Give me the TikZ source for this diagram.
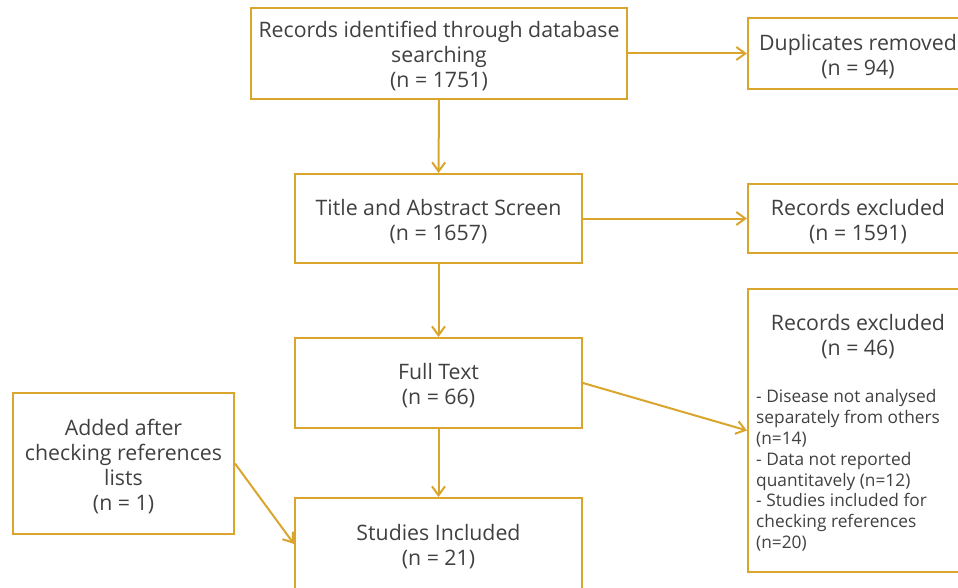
\documentclass[tikz,border=0pt]{standalone}
\usepackage{fontspec}
\setmainfont{Open Sans}
\usetikzlibrary{arrows.meta}
\definecolor{prGold}{RGB}{218,165,45}
\definecolor{prText}{RGB}{64,64,64}
\newcommand{\topgap}{\rule{0pt}{22pt}}

\begin{document}
\begin{tikzpicture}[x=1pt,y=-1pt,
  font=\fontsize{21.3}{25}\selectfont, text=prText,
  box/.style={draw=prGold, line width=2pt, align=center, inner sep=0pt},
  flow/.style={draw=prGold, line width=2pt, -{Straight Barb[length=9pt,width=13pt]}}]
\useasboundingbox (0,0) rectangle (958,588);
%% ---- main column ----
\node[box, minimum width=376pt, minimum height=91pt] (ident) at (439,53.5)
  {\topgap Records identified through database\\searching\\(n = 1751)};
\node[box, minimum width=287pt, minimum height=89pt] (screen) at (438.5,218.5)
  {\topgap Title and Abstract Screen\\(n = 1657)};
\node[box, minimum width=287pt, minimum height=90pt] (full) at (438.5,383)
  {\topgap Full Text\\(n = 66)};
\node[box, minimum width=287pt, minimum height=92pt] (incl) at (438.5,544)
  {\topgap Studies Included\\(n = 21)};
%% ---- side boxes ----
\node[box, minimum width=220pt, minimum height=71pt] (dup) at (858,53.5)
  {\topgap Duplicates removed\\(n = 94)};
\node[box, minimum width=220pt, minimum height=69pt] (exclA) at (858,218.5)
  {\topgap Records excluded\\(n = 1591)};
\node[box, minimum width=220pt, minimum height=283pt] (exclB) at (858,430.5) {};
\node[align=center] (exclBhead) at (858,336.5) {Records excluded\\(n = 46)};
\node[anchor=north west, inner sep=0pt, align=left,
      font=\fontsize{17.3}{20.8}\selectfont] (exclBlist) at (756,389.5)
  {- Disease not analysed\\separately from others\\(n=14)\\- Data not reported\\quantitavely (n=12)\\- Studies included for\\checking references\\(n=20)};
\node[box, minimum width=221pt, minimum height=141pt] (added) at (123.5,463.5)
  {\topgap Added after\\checking references\\lists\\(n = 1)};
%% ---- arrows ----
\draw[flow] (ident) -- (screen);
\draw[flow] (screen) -- (full);
\draw[flow] (full) -- (incl);
\draw[flow] (ident) -- (dup);
\draw[flow] (screen) -- (exclA);
\draw[flow] (full.east) -- (exclB.west);
\draw[flow] (added.east) -- (incl.west);
\end{tikzpicture}
\end{document}
